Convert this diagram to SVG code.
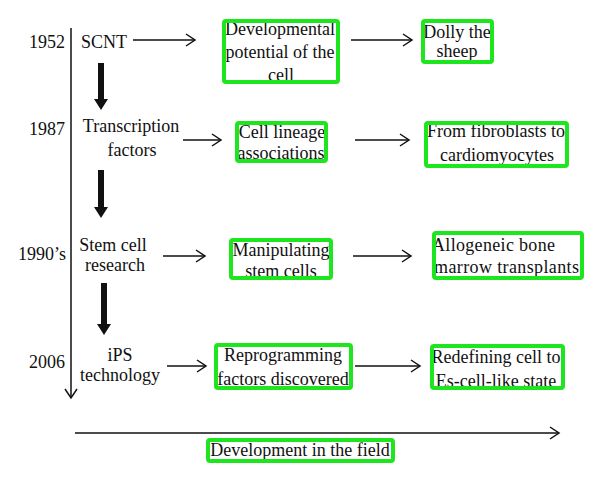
<svg xmlns="http://www.w3.org/2000/svg" width="600" height="482" viewBox="0 0 600 482">
<style>
text{font-family:"Liberation Serif","Times New Roman",serif;font-size:18px;fill:#111}
.c{text-anchor:middle}
.r{text-anchor:end}
.ln{stroke:#111;stroke-width:1.5;fill:none}
.box{fill:none;stroke:#1ee61e;stroke-width:4;rx:2}
.thick{fill:#111}
</style>
<defs>
<marker id="open" markerWidth="12" markerHeight="14" refX="10" refY="7" orient="auto" markerUnits="userSpaceOnUse">
<path d="M1,1 L10,7 L1,13" fill="none" stroke="#111" stroke-width="1.5"/>
</marker>
</defs>
<g id="connectors">
<line class="ln" x1="71" y1="28" x2="71" y2="398" marker-end="url(#open)"/>
<line class="ln" x1="75" y1="433" x2="559" y2="433" marker-end="url(#open)"/>
<line class="ln" x1="133" y1="40" x2="195" y2="40" marker-end="url(#open)"/>
<line class="ln" x1="351" y1="40" x2="412" y2="40" marker-end="url(#open)"/>
<line class="ln" x1="183" y1="140" x2="221" y2="140" marker-end="url(#open)"/>
<line class="ln" x1="355" y1="140" x2="409" y2="140" marker-end="url(#open)"/>
<line class="ln" x1="163" y1="256" x2="205" y2="256" marker-end="url(#open)"/>
<line class="ln" x1="353" y1="256" x2="411" y2="256" marker-end="url(#open)"/>
<line class="ln" x1="167" y1="366" x2="206" y2="366" marker-end="url(#open)"/>
<line class="ln" x1="355" y1="366" x2="420" y2="366" marker-end="url(#open)"/>
<path class="thick" d="M98,63 H104 V99 H108 L101,110 L94,99 H98 Z"/>
<path class="thick" d="M98,170 H104 V207 H108 L101,218 L94,207 H98 Z"/>
<path class="thick" d="M101,283 H107 V324 H111 L104,335 L97,324 H101 Z"/>
</g>
<g id="years">
<text class="r" x="65" y="48">1952</text>
<text class="r" x="65" y="135">1987</text>
<text class="r" x="66" y="260">1990’s</text>
<text class="r" x="65" y="368">2006</text>
</g>
<g id="scnt"><text x="81" y="48">SCNT</text></g>
<g id="transcription"><text class="c" x="131" y="132">Transcription</text><text class="c" x="132" y="156">factors</text></g>
<g id="stemcell"><text class="c" x="113" y="251">Stem cell</text><text class="c" x="115" y="271">research</text></g>
<g id="ips"><text class="c" x="120" y="361">iPS</text><text class="c" x="120" y="381">technology</text></g>
<g id="devpot"><text class="c" x="280" y="35">Developmental</text><text class="c" x="280" y="58">potential of the</text><text class="c" x="281" y="81">cell</text><rect class="box" x="224" y="21" width="114" height="61"/></g>
<g id="dolly"><text class="c" x="457" y="38">Dolly the</text><text class="c" x="457" y="57">sheep</text><rect class="box" x="423" y="21" width="69" height="41"/></g>
<g id="lineage"><text class="c" x="282" y="138">Cell lineage</text><text class="c" x="281" y="159">associations</text><rect class="box" x="237" y="123" width="89" height="38"/></g>
<g id="fibro"><text class="c" x="496" y="137">From fibroblasts to</text><text class="c" x="497" y="161">cardiomyocytes</text><rect class="box" x="426" y="123" width="141" height="43"/></g>
<g id="manip"><text class="c" x="281" y="256">Manipulating</text><text class="c" x="281" y="277">stem cells</text><rect class="box" x="231" y="240" width="100" height="38"/></g>
<g id="allo"><text x="432" y="251" textLength="123">Allogeneic bone</text><text x="434" y="273" textLength="145">marrow transplants</text><rect class="box" x="434" y="233" width="148" height="45"/></g>
<g id="reprog"><text class="c" x="283" y="361">Reprogramming</text><text class="c" x="283" y="385">factors discovered</text><rect class="box" x="216" y="345" width="135" height="43"/></g>
<g id="redef"><text class="c" x="496" y="363">Redefining cell to</text><text class="c" x="496" y="387">Es-cell-like state</text><rect class="box" x="432" y="346" width="131" height="42"/></g>
<g id="field"><text class="c" x="300" y="456" font-size="18.5">Development in the field</text><rect class="box" x="208" y="440" width="185" height="21"/></g>
</svg>
